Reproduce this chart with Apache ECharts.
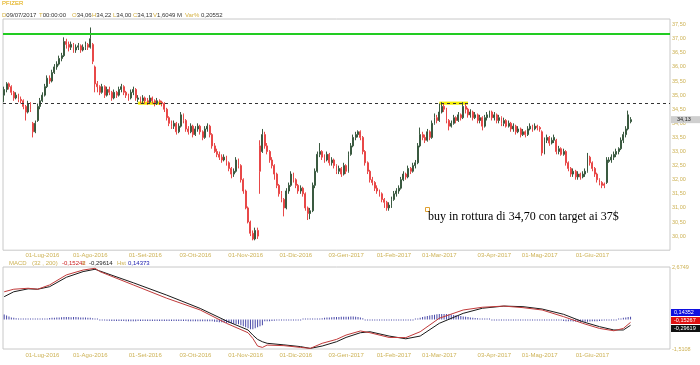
<!DOCTYPE html>
<html><head><meta charset="utf-8">
<script src="https://cdn.jsdelivr.net/npm/echarts@6/dist/echarts.min.js"></script>
<style>html,body{margin:0;padding:0;background:#fff}#c{width:700px;height:365px}</style>
</head><body><div id="c"></div>
<script>
// ---------- DATA ----------
const startDate = '2016-06-09';
const holidays = ['2016-07-04','2016-09-05','2016-11-24','2016-12-26','2017-01-02','2017-01-16','2017-02-20','2017-04-14','2017-05-29'];
const nBars = 263;      // trading days with data
const nSlots = 279;     // incl. empty space on the right
// [open, close, low, high]
const ohlc = [
[35.0,35.2,34.75,35.3],[35.2,35.4,35.1,35.46],[35.4,35.3,35.2,35.45],[35.3,35.1,35.0,35.35],[35.1,34.9,34.8,35.15],
[34.9,35.0,34.85,35.1],[35.0,34.85,34.75,35.05],[34.85,34.8,34.7,34.95],[34.8,34.6,34.5,34.85],[34.6,34.4,34.1,34.65],
[34.4,34.7,34.35,34.8],[34.7,34.5,34.4,34.75],[34.0,33.7,33.5,34.05],[33.7,34.0,33.65,34.1],[34.1,34.6,34.05,34.7],
[34.6,34.8,34.5,34.9],[34.8,35.0,34.75,35.1],[35.0,35.3,34.95,35.4],[35.3,35.6,35.25,35.7],[35.6,35.5,35.4,35.7],
[35.5,35.8,35.45,35.9],[35.8,36.0,35.75,36.1],[36.0,36.1,35.9,36.2],[36.1,36.3,36.05,36.4],[36.3,36.4,36.2,36.5],
[36.4,36.9,36.35,37.05],[36.9,36.8,36.65,37.0],[36.8,36.7,36.55,36.9],[36.7,36.8,36.6,36.9],[36.8,36.6,36.5,36.85],
[36.6,36.7,36.5,36.8],[36.7,36.75,36.6,36.85],[36.75,36.6,36.5,36.8],[36.6,36.7,36.55,36.8],[36.7,36.8,36.6,36.9],
[36.8,36.7,36.6,36.85],[36.7,37.0,36.65,37.4],[36.8,36.2,36.1,36.85],[36.0,35.4,35.1,36.05],[35.4,35.3,35.1,35.5],
[35.3,35.1,35.0,35.35],[35.1,35.3,35.05,35.4],[35.3,35.0,34.9,35.35],[35.0,35.2,34.95,35.3],[35.2,35.1,35.0,35.3],
[35.1,34.9,34.8,35.15],[34.9,35.1,34.85,35.2],[35.1,35.0,34.9,35.15],[35.0,35.2,34.95,35.3],[35.2,35.3,35.1,35.4],
[35.3,35.1,35.0,35.35],[35.1,35.0,34.9,35.15],[35.0,34.9,34.8,35.05],[34.9,35.1,34.85,35.2],[35.1,35.2,35.0,35.3],
[35.2,34.9,34.8,35.25],[34.85,34.9,34.75,35.0],[34.9,34.8,34.7,34.95],[34.8,34.9,34.7,35.0],[34.9,34.8,34.7,34.95],
[34.8,34.75,34.65,34.9],[34.75,34.9,34.7,35.0],[34.9,34.8,34.7,34.95],[34.8,34.7,34.6,34.85],[34.7,34.8,34.65,34.9],
[34.8,34.75,34.65,34.85],[34.75,34.7,34.6,34.8],[34.7,34.5,34.4,34.75],[34.5,34.2,34.1,34.55],[34.2,34.0,33.9,34.25],
[34.0,33.9,33.8,34.1],[33.9,34.0,33.8,34.1],[34.0,33.7,33.6,34.05],[33.7,33.9,33.65,34.0],[33.9,34.3,33.85,34.4],
[34.3,34.1,34.0,34.35],[34.1,33.8,33.7,34.15],[33.8,33.7,33.6,33.9],[33.7,33.9,33.65,34.0],[33.9,33.6,33.5,33.95],
[33.6,33.8,33.55,33.9],[33.8,33.9,33.7,34.0],[33.9,33.7,33.6,33.95],[33.7,33.5,33.4,33.75],[33.5,33.8,33.45,33.9],
[33.8,33.9,33.7,34.0],[33.9,33.6,33.5,33.95],[33.6,33.2,33.1,33.65],[33.2,33.0,32.95,33.3],[33.0,32.9,32.8,33.1],
[32.9,32.8,32.7,33.0],[32.8,32.7,32.6,32.9],[32.7,32.8,32.65,32.9],[32.8,32.6,32.5,32.85],[32.6,32.4,32.3,32.65],
[32.4,32.2,32.05,32.45],[32.2,32.3,32.1,32.4],[32.3,32.7,32.25,32.8],[32.7,32.5,32.4,32.75],[32.5,32.0,31.9,32.55],
[32.0,31.6,31.5,32.05],[31.6,31.0,30.95,31.65],[31.0,30.5,30.45,31.05],[30.5,30.1,30.0,30.55],[30.1,29.9,29.85,30.2],
[29.9,30.2,29.85,30.3],[30.2,30.0,29.9,30.3],[33.2,32.3,31.5,33.4],[33.0,33.6,32.95,33.8],[33.6,33.2,33.1,33.7],
[33.2,33.0,32.9,33.3],[33.0,32.7,32.6,33.05],[32.7,32.5,32.4,32.8],[32.5,32.2,32.0,32.55],[32.2,31.8,31.7,32.25],
[31.8,31.5,31.4,31.85],[31.5,31.3,31.2,31.6],[31.3,31.0,30.7,31.35],[31.0,31.6,30.95,31.7],[31.6,31.8,31.5,31.9],
[31.8,32.2,31.75,32.3],[32.2,32.0,31.9,32.25],[32.0,31.8,31.7,32.05],[31.8,31.6,31.5,31.85],[31.6,31.7,31.5,31.8],
[31.7,31.5,31.4,31.75],[31.5,31.0,30.9,31.55],[31.0,30.8,30.57,31.05],[30.8,30.9,30.6,31.0],[30.9,31.8,30.85,31.9],
[31.8,32.3,31.7,32.4],[32.3,32.9,32.25,33.0],[32.9,33.0,32.8,33.3],[33.0,32.8,32.7,33.05],[32.8,32.7,32.6,32.9],
[32.7,32.9,32.65,33.0],[32.9,32.6,32.5,32.95],[32.6,32.7,32.5,32.8],[32.7,32.5,32.4,32.75],[32.5,32.3,32.2,32.55],
[32.3,32.4,32.2,32.5],[32.4,32.2,32.1,32.45],[32.2,32.5,32.15,32.6],[32.5,32.3,32.2,32.55],[32.3,32.9,32.25,33.0],
[32.9,33.2,32.85,33.3],[33.2,33.5,33.15,33.6],[33.5,33.6,33.4,33.7],[33.6,33.7,33.5,33.75],[33.7,33.5,33.4,33.75],
[33.5,33.0,32.9,33.55],[33.0,32.6,32.5,33.05],[32.6,32.3,32.2,32.65],[32.3,32.0,31.9,32.35],[32.0,31.9,31.8,32.1],
[31.9,31.7,31.6,31.95],[31.7,31.6,31.5,31.8],[31.6,31.5,31.4,31.65],[31.5,31.3,31.2,31.55],[31.3,31.2,31.0,31.35],
[31.2,31.0,30.9,31.25],[31.0,31.1,30.9,31.2],[31.1,31.3,31.0,31.4],[31.3,31.5,31.25,31.6],[31.5,31.6,31.4,31.7],
[31.6,31.7,31.5,31.8],[31.7,32.0,31.65,32.1],[32.0,32.2,31.95,32.3],[32.2,32.1,32.0,32.25],[32.1,32.4,32.05,32.5],
[32.4,32.3,32.2,32.45],[32.3,32.5,32.25,32.6],[32.5,32.6,32.4,32.7],[32.6,33.2,32.55,33.3],[33.2,33.6,33.15,33.85],
[33.6,33.5,33.4,33.7],[33.5,33.4,33.3,33.6],[33.4,33.7,33.35,33.8],[33.7,33.5,33.4,33.75],[33.5,34.0,33.45,34.1],
[34.0,34.2,33.95,34.35],[34.2,34.1,34.0,34.3],[34.1,34.4,34.05,34.7],[34.4,34.6,34.35,34.75],[34.6,34.5,34.4,34.7],
[34.5,34.1,34.0,34.55],[34.1,33.9,33.75,34.15],[33.9,34.0,33.85,34.1],[34.0,34.2,33.95,34.3],[34.2,34.1,34.0,34.25],
[34.1,34.3,34.05,34.4],[34.3,34.2,34.1,34.35],[34.2,34.6,34.15,34.75],[34.6,34.5,34.35,34.7],[34.5,34.3,34.2,34.55],
[34.3,34.4,34.2,34.5],[34.4,34.2,34.1,34.45],[34.2,34.3,34.15,34.4],[34.3,34.1,34.0,34.35],[34.1,34.2,34.0,34.3],
[34.2,33.9,33.75,34.25],[33.9,34.2,33.85,34.3],[34.2,34.3,34.1,34.4],[34.3,34.4,34.2,34.45],[34.4,34.2,34.1,34.45],
[34.2,34.3,34.1,34.4],[34.3,34.1,34.0,34.35],[34.1,34.2,34.0,34.3],[34.2,34.0,33.9,34.25],[34.0,34.1,33.9,34.2],
[34.1,33.9,33.85,34.15],[33.9,34.0,33.85,34.1],[34.0,33.8,33.7,34.05],[33.8,33.9,33.7,34.0],[33.9,33.7,33.6,33.95],
[33.7,33.8,33.65,33.9],[33.8,33.6,33.5,33.85],[33.6,33.7,33.55,33.8],[33.7,33.6,33.5,33.75],[33.6,33.8,33.55,33.9],
[33.8,33.9,33.75,34.0],[33.9,33.8,33.7,33.95],[33.8,33.9,33.75,34.0],[33.9,33.85,33.75,33.95],[33.85,33.8,33.7,33.9],
[33.7,32.95,32.85,33.75],[32.95,33.4,32.9,33.5],[33.4,33.5,33.3,33.6],[33.5,33.3,33.2,33.55],[33.3,33.4,33.25,33.5],
[33.4,33.5,33.3,33.6],[33.4,33.0,32.9,33.45],[33.0,33.1,32.9,33.2],[33.1,32.9,32.85,33.15],[32.9,33.0,32.85,33.1],
[33.0,32.6,32.5,33.05],[32.6,32.4,32.3,32.65],[32.4,32.2,32.1,32.45],[32.2,32.3,32.1,32.4],[32.3,32.1,32.0,32.35],
[32.1,32.2,32.0,32.3],[32.2,32.1,32.0,32.25],[32.1,32.2,32.05,32.3],[32.2,32.3,32.1,32.4],[32.3,32.8,32.25,32.95],
[32.8,32.6,32.5,32.85],[32.6,32.4,32.3,32.65],[32.4,32.2,32.1,32.45],[32.2,32.0,31.9,32.25],[32.0,31.9,31.8,32.05],
[31.9,31.8,31.7,31.95],[31.85,31.8,31.7,31.9],[31.9,32.7,31.85,32.8],[32.65,32.7,32.6,32.8],[32.7,32.8,32.6,32.9],
[32.8,32.9,32.7,33.0],[32.9,33.0,32.8,33.1],[33.0,33.1,32.9,33.15],[33.1,33.4,33.05,33.5],[33.4,33.6,33.3,33.7],
[33.6,33.8,33.5,33.9],[33.8,34.3,33.75,34.45],[34.06,34.13,34.00,34.22]
];
const histVals = [
0.25,0.2,0.15, 0.1,0.08,0.06,0.05,
0.02,0.02,0.02,0.02,0.02,0.02,0.02,0.02,0.02,0.02,0.02,
0.05,0.07,
0.08,0.09,0.1,0.1,0.11,0.12,0.12,0.12,0.11,0.12,0.12,0.11,0.1,0.1,0.1,0.09,0.08,
0.06,0.03,0.0,-0.03,
-0.06,-0.06,-0.07,-0.07,-0.08,-0.08,-0.08,-0.08,-0.08,-0.08,-0.09,-0.09,-0.09,-0.09,-0.09,-0.08,-0.08,-0.08,-0.08,-0.08,-0.08,-0.08,-0.08,-0.08,-0.08,-0.08,-0.08,-0.08,-0.08,-0.08,-0.08,-0.08,-0.08,-0.08,-0.08,-0.08,-0.09,-0.09,-0.09,-0.09,-0.09,-0.09,-0.09,-0.1,-0.1,-0.1,-0.1,
-0.12,-0.13,-0.14,-0.15,-0.16,-0.18,-0.19,-0.2,-0.22,-0.23,-0.25,
-0.3,-0.35,-0.4,-0.45,-0.5,-0.5,-0.45,-0.4,-0.35,-0.3,
-0.1,-0.1,-0.09,-0.08,-0.07,-0.06,-0.05,-0.05,-0.05,-0.04,-0.04,-0.04,-0.03,-0.03,-0.03,-0.03,
0.0,0.0,0.0,0.0,0.0,0.0,0.0,0.0,
0.06,0.08,0.1,0.1,0.11,0.12,0.12,0.12,0.13,0.13,0.14,0.14,0.15,0.15,0.14,0.12,0.1,0.06,
-0.03,-0.04,-0.05,-0.05,-0.05,-0.05,-0.05,-0.05,-0.05,-0.05,-0.05,-0.05,-0.05,-0.05,-0.05,-0.05,-0.05,-0.05,-0.04,-0.03,-0.02,0.0,
0.04,0.08,0.12,0.15,0.18,0.2,0.22,0.24,0.26,0.27,0.27,0.27,0.27,0.26,0.25,0.23,0.21,0.19,0.17,0.15,0.13,0.12,0.1,
0.08,0.07,0.06,0.05,0.04,0.03,0.02,0.02,
-0.02,-0.02,-0.02,-0.02,-0.03,-0.03,-0.03,-0.03,-0.03,-0.03,-0.03,-0.03,-0.04,-0.04,-0.04,-0.04,-0.04,-0.04,-0.04,-0.04,-0.05,-0.05,-0.05,-0.05,-0.05,-0.05,-0.05,-0.05,-0.05,-0.05,
-0.08,-0.09,-0.1,-0.1,-0.11,-0.11,-0.12,-0.12,-0.12,-0.12,-0.12,-0.11,-0.1,-0.1,-0.09,
-0.08,-0.07,-0.06,-0.05,-0.04,-0.03,-0.02,-0.01,0.0,
0.05,0.08,0.1,0.12,0.14
];
// [bar index, value]
const macdPts = [[0,1.41],[4,1.54],[10,1.59],[14,1.54],[19,1.76],[26,2.27],[33,2.52],[38,2.61],[40,2.44],[54,1.76],[68,1.08],[82,0.48],[93,-0.20],[102,-0.68],[104,-0.97],[106,-1.36],[108,-1.43],[110,-1.31],[117,-1.34],[124,-1.43],[128,-1.48],[133,-1.22],[139,-1.02],[143,-0.80],[149,-0.59],[153,-0.68],[161,-0.92],[168,-0.93],[174,-0.63],[182,0.06],[192,0.48],[200,0.62],[209,0.68],[217,0.60],[225,0.48],[234,0.14],[242,-0.20],[249,-0.46],[255,-0.58],[259,-0.46],[262,-0.15]];
const signalPts = [[0,1.16],[4,1.41],[10,1.56],[14,1.54],[19,1.67],[26,2.15],[33,2.44],[38,2.56],[40,2.47],[54,1.87],[68,1.24],[82,0.56],[93,-0.08],[102,-0.54],[104,-0.80],[106,-1.02],[108,-1.14],[110,-1.22],[117,-1.30],[124,-1.39],[128,-1.48],[133,-1.36],[139,-1.14],[143,-0.92],[149,-0.68],[153,-0.63],[161,-0.85],[168,-0.99],[174,-0.85],[182,-0.20],[192,0.31],[200,0.57],[209,0.68],[217,0.65],[225,0.53],[234,0.26],[242,-0.12],[249,-0.37],[255,-0.54],[259,-0.54],[262,-0.30]];
const tickDates = ['2016-07-01','2016-08-01','2016-09-01','2016-10-03','2016-11-01','2016-12-01','2017-01-03','2017-02-01','2017-03-01','2017-04-03','2017-05-01','2017-06-01'];
const tickLabels = ['01-Lug-2016','01-Ago-2016','01-Set-2016','03-Ott-2016','01-Nov-2016','01-Dic-2016','03-Gen-2017','01-Feb-2017','01-Mar-2017','03-Apr-2017','01-Mag-2017','01-Giu-2017'];
const targetLevel = 37.17;
const breakoutLevel = 34.70;
const yellowZones = [[56,66],[182,194]];
const lastClose = 34.13;
const macdRange = [-1.5108, 2.6749];
const macdHeader = {params:'(32 , 200)', macd:'-0,15242', sig:'8', sigVal:'-0,29614', hst:'0,14373'};
const macdTags = ['0,14352','-0,15267','-0,29619'];
const headerItems = [['D','09/07/2017'],['T','00:00:00'],['O','34,06'],['H','34,22'],['L','34,00'],['C','34,13'],['V','1,6049 M'],['Var%','0,20552']];
const note = 'buy in rottura di 34,70 con target ai 37$';

// ---------- BUILD ----------
function tradingDays(start, n, hol){
  const out=[]; const d=new Date(start+'T00:00:00Z');
  while(out.length<n){const wd=d.getUTCDay();const s=d.toISOString().slice(0,10);
    if(wd!==0&&wd!==6&&!hol.includes(s)) out.push(s); d.setUTCDate(d.getUTCDate()+1);}
  return out;
}
const dates = tradingDays(startDate, nSlots, holidays);
const GOLD = '#cdb255';
const FONT = 'Liberation Sans';
const fmt2 = v => v.toFixed(2).replace('.', ',');

const xLabel = {
  interval: (i, v) => tickDates.includes(v),
  formatter: v => { const k = tickDates.indexOf(v); return k >= 0 ? tickLabels[k] : ''; },
  fontSize: 6, color: GOLD, fontFamily: FONT, margin: 2
};

const chart = echarts.init(document.getElementById('c'), null, {renderer: 'canvas'});

const graphics = [];
graphics.push({type:'text', left:2, top:0, style:{text:'PFIZER', fill:'#e0a800', font:'6px "Liberation Sans"'}});
const hdrX = [2,39,72,92,113,133,153,185];
headerItems.forEach((h, k) => {
  graphics.push({type:'text', x:hdrX[k], y:12, style:{
    text:'{a|' + h[0] + '}{b|' + (h[0].length > 1 ? ' ' : '') + h[1] + '}',
    rich:{a:{fill:'#d4b040', fontSize:6, fontFamily:FONT}, b:{fill:'#333', fontSize:6, fontFamily:FONT}}}});
});
// MACD header
[['MACD',9,GOLD],[macdHeader.params,32,GOLD],[macdHeader.macd,62,'#cc2020'],[macdHeader.sig,82,GOLD],[macdHeader.sigVal,89,'#222'],['Hst',117,GOLD],[macdHeader.hst,128,'#2020b0']].forEach(t => {
  graphics.push({type:'text', x:t[1], y:260, style:{text:t[0], fill:t[2], font:'6px "Liberation Sans"'}});
});
// MACD value tags
const tagColors = ['#1010e0','#e01010','#111'];
macdTags.forEach((t, k) => {
  graphics.push({type:'rect', shape:{x:671, y:309 + k*8, width:29, height:7}, style:{fill:tagColors[k]}});
  graphics.push({type:'text', x:674, y:309.5 + k*8, style:{text:t, fill:'#fff', font:'5.5px "Liberation Sans"'}});
});
// annotation
graphics.push({type:'rect', shape:{x:425.5, y:207.5, width:4, height:4}, style:{fill:'none', stroke:'#e0a030', lineWidth:1}});
graphics.push({type:'text', x:428, y:217, style:{text:note, fill:'#000', font:'12px "Liberation Serif"', verticalAlign:'middle'}});

chart.setOption({
  animation: false,
  backgroundColor: '#fff',
  grid: [
    {left:3, right:30, top:19, height:231.2, show:true, borderColor:'#c8c8c8', borderWidth:1, backgroundColor:'#fff'},
    {left:3, right:30, top:267, height:82, show:true, borderColor:'#c8c8c8', borderWidth:1, backgroundColor:'#fff'}
  ],
  xAxis: [
    {type:'category', gridIndex:0, data:dates, boundaryGap:true, axisLine:{show:false}, axisTick:{show:false}, axisLabel:xLabel, splitLine:{show:false}},
    {type:'category', gridIndex:1, data:dates, boundaryGap:true, axisLine:{show:false}, axisTick:{show:false}, axisLabel:Object.assign({}, xLabel, {margin:3}), splitLine:{show:false}}
  ],
  yAxis: [
    {type:'value', gridIndex:0, position:'right', min:29.5, max:37.7, interval:0.5, scale:true,
     axisLine:{show:false}, axisTick:{show:false}, splitLine:{show:false},
     axisLabel:{fontSize:5.5, color:GOLD, fontFamily:FONT, margin:2, formatter:fmt2, showMinLabel:false, showMaxLabel:false}},
    {type:'value', gridIndex:1, position:'right', min:macdRange[0], max:macdRange[1],
     axisLine:{show:false}, axisTick:{show:false}, splitLine:{show:false},
     axisLabel:{fontSize:5.5, color:GOLD, fontFamily:FONT, margin:2, customValues:macdRange,
       formatter: v => v.toFixed(4).replace('.', ',')}}
  ],
  series: [
    {type:'candlestick', xAxisIndex:0, yAxisIndex:0, data:ohlc, barWidth:1.4,
     itemStyle:{color:'#3a5a40', color0:'#e84848', borderColor:'#3a5a40', borderColor0:'#e84848', borderWidth:1},
     markLine:{silent:true, symbol:'none', animation:false,
       data:[
         {yAxis:targetLevel, lineStyle:{color:'#22cc22', width:2, type:'solid'}, label:{show:false}},
         {yAxis:breakoutLevel, lineStyle:{color:'#333', width:1, type:[3,3]}, label:{show:false}}
       ]},
     markArea:{silent:true, itemStyle:{color:'#f5ef00'},
       data: yellowZones.map(z => [{xAxis:dates[z[0]], yAxis:breakoutLevel - 0.04}, {xAxis:dates[z[1]], yAxis:breakoutLevel + 0.07}])}
    },
    {type:'bar', xAxisIndex:1, yAxisIndex:1, data:histVals, barWidth:1, barMinHeight:1,
     itemStyle:{color:'#4848a8'}},
    {type:'line', xAxisIndex:1, yAxisIndex:1, data:signalPts, symbol:'none', lineStyle:{color:'#1a1a1a', width:1}},
    {type:'line', xAxisIndex:1, yAxisIndex:1, data:macdPts, symbol:'none', lineStyle:{color:'#c03a3a', width:1}}
  ]
});
// last-close tag placed through the price scale
const tagY = chart.convertToPixel({yAxisIndex:0}, lastClose);
graphics.push({type:'rect', shape:{x:671, y:tagY - 3.5, width:29, height:7}, style:{fill:'#cfcfcf'}, z:10});
graphics.push({type:'text', x:677, y:tagY, style:{text:fmt2(lastClose), fill:'#222', font:'5.5px "Liberation Sans"', verticalAlign:'middle'}, z:11});
chart.setOption({graphic: graphics});
</script></body></html>
